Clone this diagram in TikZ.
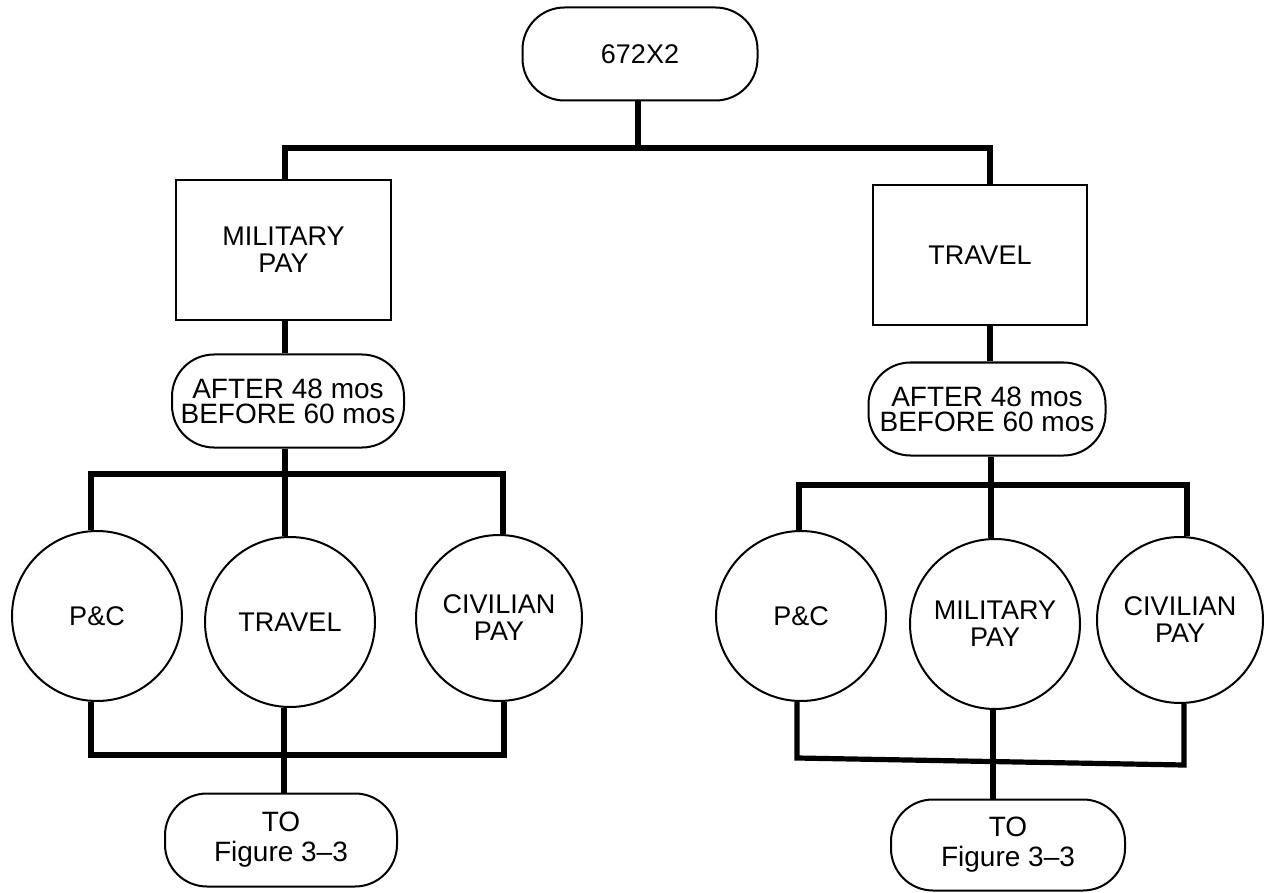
\documentclass[tikz,border=0pt]{standalone}
\usepackage{fontspec}
\setmainfont{Liberation Sans}
\begin{document}
\begin{tikzpicture}[x=0.5pt,y=-0.5pt,
  every node/.style={font=\fontsize{13.5}{13.5}\selectfont, align=center, inner sep=0pt},
  border/.style={draw, line width=1pt},
  term/.style={border, rectangle, rounded corners=21pt},
  boxnode/.style={border, rectangle},
  circnode/.style={border, circle},
  bar/.style={line width=2.6pt}]
\useasboundingbox (0,0) rectangle (1264,893);

% nodes
\node[term, minimum width=117.5pt, minimum height=46.5pt] (top) at (640,54) {672X2};
\node[boxnode, minimum width=107.5pt, minimum height=70pt] (mp) at (283.5,250) {MILITARY\\PAY};
\node[boxnode, minimum width=107pt, minimum height=70pt] (tr) at (980,255) {TRAVEL};
\node[term, minimum width=116pt, minimum height=46.5pt, font=\fontsize{14}{12.5}\selectfont] (lov) at (288,401) {AFTER 48 mos\\BEFORE 60 mos};
\node[term, minimum width=118.5pt, minimum height=46.5pt, font=\fontsize{14}{12.5}\selectfont] (rov) at (987,409) {AFTER 48 mos\\BEFORE 60 mos};

\node[circnode, minimum size=85pt] (lpc) at (97,616) {P\&C};
\node[circnode, minimum size=85pt] (ltr) at (290,622) {TRAVEL};
\node[circnode, minimum size=83pt] (lcv) at (499,618) {CIVILIAN\\PAY};

\node[circnode, minimum size=85pt] (rpc) at (801,616) {P\&C};
\node[circnode, minimum size=85pt] (rmp) at (995,624) {MILITARY\\PAY};
\node[circnode, minimum size=83pt] (rcv) at (1180,620) {CIVILIAN\\PAY};

\node[term, minimum width=116pt, minimum height=46.5pt, font=\fontsize{14}{15}\selectfont] (lto) at (281,840) {TO\\Figure 3--3};
\node[term, minimum width=117pt, minimum height=45.5pt, font=\fontsize{14}{15}\selectfont] (rto) at (1008,845) {TO\\Figure 3--3};

% junction coordinates
\coordinate (j1) at (638,148);
\coordinate (lc) at (285,0);
\coordinate (rc) at (990,0);

\coordinate (L1) at (91,474);
\coordinate (L2) at (285,474);
\coordinate (L3) at (503,474);
\coordinate (B1) at (91,755);
\coordinate (B2) at (284,755);
\coordinate (B3) at (504,755);

\coordinate (R1) at (799,485);
\coordinate (R2) at (991,485);
\coordinate (R3) at (1187,485);
\coordinate (S1) at (797,758);
\coordinate (S2) at (993,761.5);
\coordinate (S3) at (1184,765);

% connectors
\draw[bar] (top.south -| j1) -- (j1);
\draw[bar] (mp.north -| lc) -- (j1 -| lc) -- (j1 -| rc) -- (tr.north -| rc);
\draw[bar] (mp.south -| lc) -- (lov.north -| lc);
\draw[bar] (tr.south -| rc) -- (rov.north -| rc);

% left branch
\draw[bar] (lov.south -| L2) -- (L2);
\draw[bar] (lpc.north -| L1) -- (L1) -- (L3) -- (lcv.north -| L3);
\draw[bar] (L2) -- (ltr.north -| L2);
\draw[bar] (lpc.south -| B1) -- (B1) -- (B3) -- (lcv.south -| B3);
\draw[bar] (ltr.south -| B2) -- (B2) -- (lto.north -| B2);

% right branch
\draw[bar] (rov.south -| R2) -- (R2);
\draw[bar] (rpc.north -| R1) -- (R1) -- (R3) -- (rcv.north -| R3);
\draw[bar] (R2) -- (rmp.north -| R2);
\draw[bar] (rpc.south -| S1) -- (S1) -- (S3) -- (rcv.south -| S3);
\draw[bar] (rmp.south -| S2) -- (S2) -- (rto.north -| S2);
\end{tikzpicture}
\end{document}
